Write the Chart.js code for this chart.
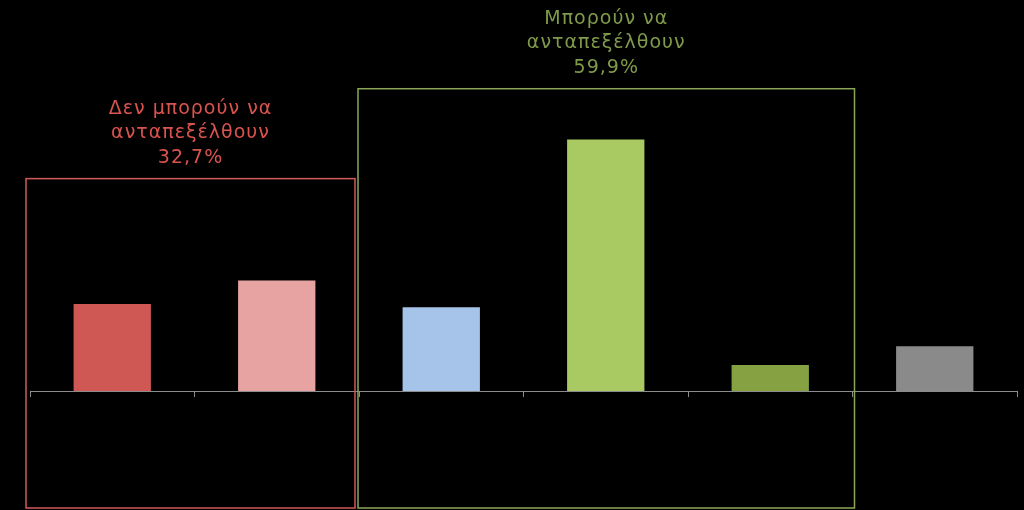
<!DOCTYPE html>
<html>
<head>
<meta charset="utf-8">
<script src="https://cdn.jsdelivr.net/npm/chart.js@4.4.0/dist/chart.umd.min.js"></script>
<style>
  html, body { margin: 0; padding: 0; background: #000; }
  #wrap { width: 1024px; height: 510px; }
</style>
</head>
<body>
<div id="wrap"><canvas id="myChart"></canvas></div>
<script>
// Δεδομένα (ποσοστά %)
const categories = ['Κατηγορία 1', 'Κατηγορία 2', 'Κατηγορία 3', 'Κατηγορία 4', 'Κατηγορία 5', 'Κατηγορία 6'];
const values = [14.4, 18.3, 13.9, 41.7, 4.3, 7.4];
const barColors = ['#cf5855', '#e6a3a1', '#a6c4e9', '#a9ca63', '#86a142', '#8a8a8a'];

// Ομάδες (πλαίσια με τίτλο)
const groupTitles = [['Δεν μπορούν να', 'ανταπεξέλθουν'], ['Μπορούν να', 'ανταπεξέλθουν']];
const groupShares = ['32,7%', '59,9%'];
const groupFirst = [0, 2];
const groupLast = [1, 4];
const groupTop = [35.2, 50.1];
const groupColors = ['#d2595b', '#8ba657'];
const groupTextColors = ['#d9534f', '#7f9a4a'];

const canvas = document.getElementById('myChart');
const ctx = canvas.getContext('2d');

// Πλαίσια και τίτλοι ομάδων
const groupPlugin = {
    id: 'groupBoxes',
    beforeDraw: (chart) => {
        const c = chart.ctx;
        c.save();
        c.fillStyle = '#000';
        c.fillRect(0, 0, chart.width, chart.height);
        c.restore();
    },
    afterDraw: (chart) => {
        const c = chart.ctx;
        const x = chart.scales.x;
        const y = chart.scales.y;
        const catW = x.getPixelForValue(1) - x.getPixelForValue(0);
        const insets = [[-4, -4], [-1, 2]];
        c.save();
        groupTitles.forEach((lines, g) => {
            const left = x.getPixelForValue(groupFirst[g]) - catW / 2 + insets[g][0];
            const right = x.getPixelForValue(groupLast[g]) + catW / 2 + insets[g][1];
            const top = y.getPixelForValue(groupTop[g]);
            const bottom = chart.height - 2;
            c.strokeStyle = groupColors[g];
            c.lineWidth = 1.5;
            c.strokeRect(left, top, right - left, bottom - top);

            const allLines = lines.concat([groupShares[g]]);
            c.fillStyle = groupTextColors[g];
            c.font = '19px "DejaVu Sans"';
            c.letterSpacing = '1px';
            c.textAlign = 'center';
            c.textBaseline = 'middle';
            const cx = (left + right) / 2;
            allLines.forEach((t, i) => {
                c.fillText(t, cx, top - 21 - (allLines.length - 1 - i) * 24.5);
            });
        });
        c.restore();
    }
};

new Chart(ctx, {
    type: 'bar',
    data: {
        labels: categories,
        datasets: [{
            data: values,
            backgroundColor: barColors,
            borderWidth: 0,
            categoryPercentage: 1,
            barPercentage: 0.47
        }]
    },
    options: {
        responsive: true,
        maintainAspectRatio: false,
        animation: false,
        layout: { padding: { left: 30, right: 7, top: 29, bottom: 113 } },
        plugins: {
            legend: { display: false },
            tooltip: { enabled: false }
        },
        scales: {
            x: {
                grid: {
                    display: true,
                    drawOnChartArea: false,
                    drawTicks: true,
                    tickLength: 6,
                    color: '#8c8c8c'
                },
                border: { display: true, color: '#8c8c8c', width: 1 },
                ticks: { display: false }
            },
            y: {
                display: false,
                min: 0,
                max: 60
            }
        }
    },
    plugins: [groupPlugin]
});
</script>
</body>
</html>
